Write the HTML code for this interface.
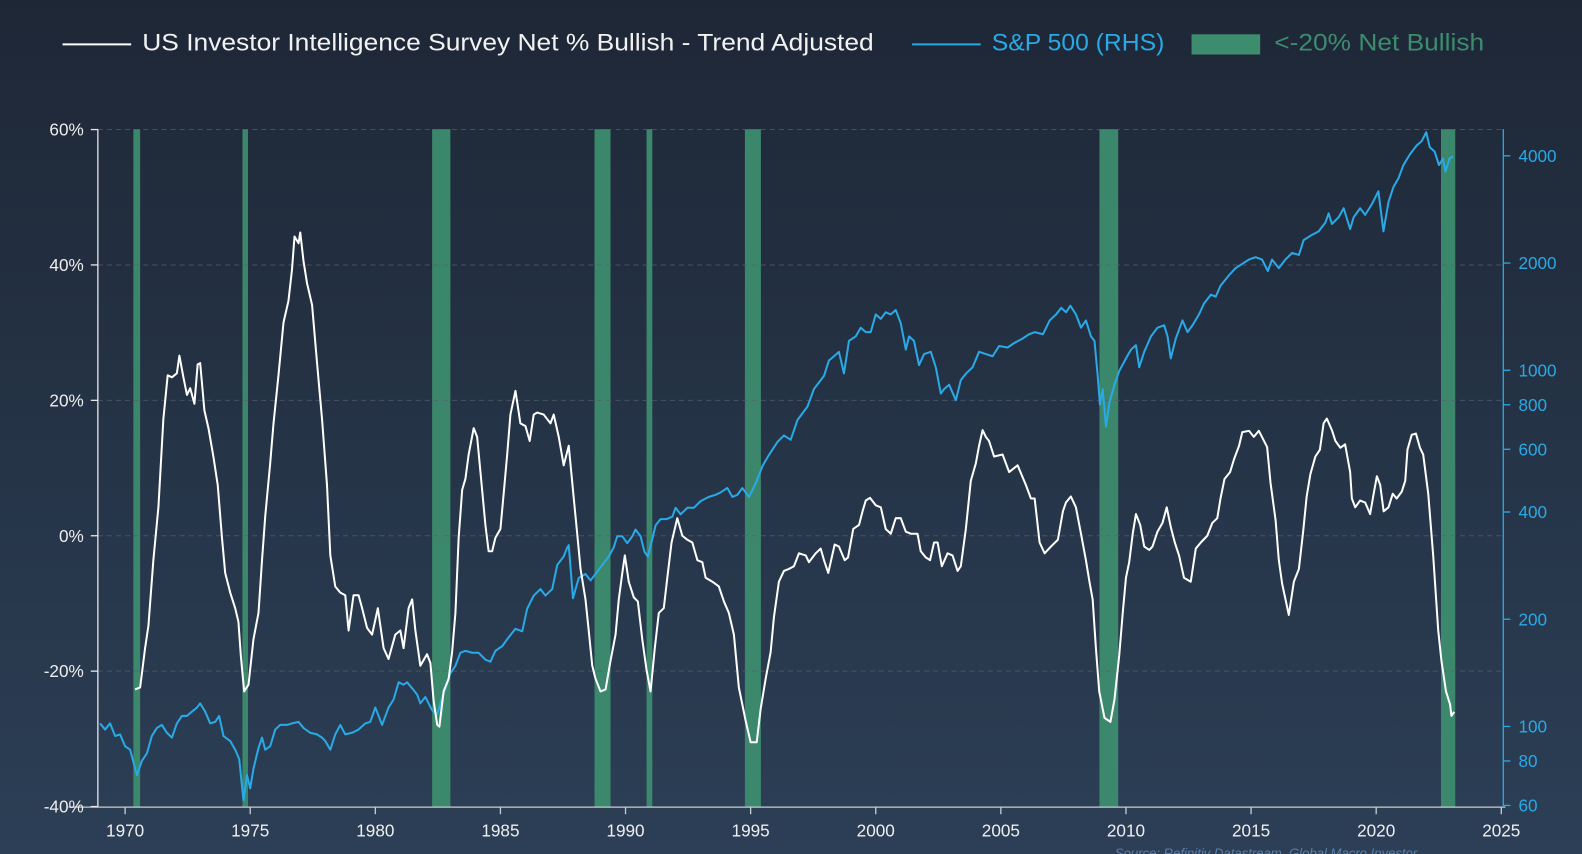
<!DOCTYPE html>
<html><head><meta charset="utf-8">
<style>
html,body{margin:0;padding:0;}
body{width:1582px;height:854px;overflow:hidden;background:linear-gradient(#1e2736,#2c3f56);font-family:"Liberation Sans",sans-serif;}
svg{display:block;}
</style></head>
<body>
<svg id="chart" width="1582" height="854" xmlns="http://www.w3.org/2000/svg">
 <g transform="scale(1.00893)">
  <g id="legend">
    <g>
      <line x1="62" y1="44" x2="130" y2="44" stroke="#ffffff" stroke-width="2"/>
      <text x="141" y="50" fill="#f2f2f2" font-size="24" textLength="725" lengthAdjust="spacingAndGlyphs">US Investor Intelligence Survey Net % Bullish - Trend Adjusted</text>
    </g>
    <g>
      <line x1="904" y1="44" x2="972" y2="44" stroke="#29a9e6" stroke-width="2"/>
      <text x="983" y="50" fill="#29a9e6" font-size="24" textLength="171" lengthAdjust="spacingAndGlyphs">S&amp;P 500 (RHS)</text>
    </g>
    <g>
      <rect x="1181" y="34" width="68" height="20" fill="#3d8c6e"/>
      <text x="1263" y="50" fill="#3d8c6e" font-size="24" textLength="208" lengthAdjust="spacingAndGlyphs">&lt;-20% Net Bullish</text>
    </g>
  </g>
  <g id="shades"></g>
  <g id="grid"></g>
  <g id="axes"></g>
  <g id="series"></g>
  <text x="1105" y="850" fill="#5a7fa8" font-size="13" font-style="italic">Source: Refinitiv Datastream, Global Macro Investor</text>
 </g>
</svg>
<script>
const shadeStart = [1970.33, 1974.69, 1982.27, 1988.76, 1990.84, 1994.77, 2008.94, 2022.59];
const shadeEnd   = [1970.60, 1974.91, 1983.00, 1989.40, 1991.07, 1995.41, 2009.69, 2023.16];
const leftTicks = [60, 40, 20, 0, -20, -40];
const rightTicks = [4000, 2000, 1000, 800, 600, 400, 200, 100, 80, 60];
const xTicks = [1970, 1975, 1980, 1985, 1990, 1995, 2000, 2005, 2010, 2015, 2020, 2025];

const wYears = [1970.4,1970.6,1970.8,1970.93,1971.13,1971.33,1971.53,1971.7,1971.87,1972.07,1972.17,1972.33,1972.47,1972.6,1972.77,1972.9,1973.0,1973.17,1973.33,1973.53,1973.7,1973.87,1974.0,1974.2,1974.4,1974.53,1974.63,1974.76,1974.93,1975.13,1975.33,1975.47,1975.6,1975.8,1975.93,1976.13,1976.33,1976.53,1976.67,1976.77,1976.93,1977.0,1977.13,1977.27,1977.47,1977.67,1977.87,1978.07,1978.2,1978.4,1978.6,1978.8,1978.93,1979.13,1979.33,1979.47,1979.67,1979.87,1980.1,1980.33,1980.53,1980.8,1981.0,1981.13,1981.33,1981.47,1981.6,1981.8,1982.07,1982.2,1982.33,1982.47,1982.56,1982.73,1982.93,1983.07,1983.2,1983.33,1983.47,1983.6,1983.73,1983.93,1984.07,1984.2,1984.4,1984.53,1984.67,1984.8,1985.0,1985.13,1985.27,1985.4,1985.6,1985.8,1986.0,1986.17,1986.33,1986.47,1986.73,1987.0,1987.13,1987.33,1987.53,1987.73,1987.93,1988.07,1988.2,1988.4,1988.53,1988.67,1988.8,1989.0,1989.2,1989.4,1989.6,1989.73,1989.87,1989.97,1990.13,1990.33,1990.49,1990.67,1990.84,1991.0,1991.17,1991.33,1991.53,1991.67,1991.84,1992.07,1992.27,1992.47,1992.67,1992.87,1993.07,1993.2,1993.47,1993.73,1993.93,1994.13,1994.33,1994.53,1994.8,1995.0,1995.24,1995.4,1995.6,1995.8,1995.93,1996.13,1996.33,1996.53,1996.73,1996.93,1997.2,1997.33,1997.6,1997.8,1997.93,1998.1,1998.36,1998.53,1998.76,1998.89,1999.1,1999.33,1999.47,1999.6,1999.77,2000.0,2000.2,2000.4,2000.6,2000.8,2001.0,2001.2,2001.4,2001.67,2001.8,2002.0,2002.17,2002.33,2002.47,2002.64,2002.87,2003.07,2003.27,2003.4,2003.6,2003.8,2004.0,2004.13,2004.27,2004.4,2004.53,2004.73,2005.07,2005.33,2005.67,2006.0,2006.2,2006.35,2006.55,2006.75,2007.0,2007.28,2007.48,2007.6,2007.8,2008.0,2008.2,2008.4,2008.54,2008.67,2008.8,2008.93,2009.14,2009.38,2009.54,2009.73,2009.87,2010.0,2010.13,2010.27,2010.4,2010.57,2010.73,2010.93,2011.06,2011.26,2011.46,2011.63,2011.79,2011.95,2012.12,2012.32,2012.59,2012.79,2012.99,2013.25,2013.45,2013.65,2013.78,2013.94,2014.16,2014.32,2014.52,2014.65,2014.92,2015.11,2015.31,2015.64,2015.78,2015.98,2016.11,2016.24,2016.51,2016.71,2016.91,2017.08,2017.22,2017.37,2017.57,2017.75,2017.9,2018.03,2018.23,2018.37,2018.57,2018.76,2018.96,2019.03,2019.16,2019.36,2019.56,2019.76,2019.9,2020.03,2020.16,2020.3,2020.49,2020.66,2020.82,2021.02,2021.16,2021.25,2021.42,2021.59,2021.75,2021.88,2022.08,2022.28,2022.48,2022.61,2022.79,2022.95,2023.01,2023.12];
const wVals = [-22.7,-22.4,-16.6,-13.3,-3.6,4.2,17.2,23.7,23.4,24,26.6,23.4,20.8,21.8,19.5,25.3,25.5,18.5,15.9,11.7,7.5,-0.3,-5.5,-8.4,-10.7,-12.7,-17.9,-23,-22,-15.3,-11.4,-3.6,2.9,10.7,16.6,23.7,31.5,34.7,39.3,44.2,43.2,44.8,40.6,37.3,34.1,25.6,17.2,7.5,-2.9,-7.5,-8.4,-8.8,-14,-8.8,-8.8,-10.7,-13.6,-14.6,-10.7,-16.6,-18.2,-14.6,-14,-16.6,-10.7,-9.4,-14,-19.2,-17.5,-18.8,-24.4,-27.9,-28.2,-23,-21.1,-17.2,-11.4,-0.3,6.8,8.4,12,15.9,14.6,9.4,1.6,-2.3,-2.3,-0.3,1,6.2,12,17.9,21.4,16.6,16.2,14,17.9,18.2,17.9,16.6,17.9,14.6,10.4,13.3,5.5,0.3,-4.9,-9.4,-14,-19.2,-21.1,-23,-22.7,-18.5,-14.6,-9.4,-5.5,-2.9,-6.8,-9.1,-9.7,-15.3,-19.8,-23,-16.6,-11.4,-10.7,-6.2,-1,2.6,0,-0.6,-1,-3.6,-3.9,-6.2,-6.8,-7.5,-9.7,-11.4,-14.6,-22.4,-27.3,-30.5,-30.5,-25.6,-21.1,-17.2,-12,-6.8,-5.2,-4.9,-4.5,-2.6,-2.9,-3.9,-2.6,-1.9,-3.6,-5.5,-1.3,-1.6,-3.6,-3.2,1,1.6,3.6,5.2,5.6,4.5,4.2,1,0.3,2.6,2.6,0.6,0.3,0.3,-2.3,-3.2,-3.6,-1,-1,-4.5,-2.6,-2.9,-5.2,-4.5,1,8.1,10.7,13.3,15.6,14.6,14,11.7,12,9.4,10.4,7.5,5.5,5.5,-1,-2.6,-1.6,-0.6,3.6,4.9,5.8,4.2,0.3,-3.6,-6.8,-9.4,-16.6,-23,-26.9,-27.5,-24.2,-17.7,-11.4,-6.2,-3.9,0.3,3.2,1.6,-1.6,-2.1,-1.6,0.6,1.9,4.2,1.3,-1,-2.9,-6.2,-6.8,-1.9,-1,0,1.9,2.6,5.5,8.4,9.4,11.3,13.3,15.3,15.5,14.6,15.5,13.1,7.8,2.3,-3.6,-7.1,-11.7,-6.8,-4.9,0.6,5.8,9.1,11.7,12.7,16.6,17.3,15.6,14,13,13.5,9.4,5.5,4.2,5.2,4.9,3.2,6.2,8.8,7.5,3.6,4.2,6.2,5.5,6.5,8.1,12.7,14.9,15.1,13,12,6.2,-2.9,-14,-18.5,-23,-24.9,-26.6,-26];

const bYears = [1969.0,1969.2,1969.4,1969.6,1969.8,1970.0,1970.2,1970.47,1970.67,1970.87,1971.07,1971.27,1971.47,1971.67,1971.87,1972.07,1972.27,1972.47,1972.67,1972.87,1973.0,1973.2,1973.4,1973.6,1973.76,1973.93,1974.2,1974.4,1974.56,1974.73,1974.87,1975.0,1975.13,1975.33,1975.47,1975.6,1975.8,1976.0,1976.2,1976.47,1976.67,1976.93,1977.13,1977.4,1977.67,1977.87,1978.0,1978.2,1978.4,1978.6,1978.8,1979.07,1979.33,1979.6,1979.8,1980.0,1980.27,1980.53,1980.73,1980.93,1981.13,1981.27,1981.47,1981.67,1981.8,1982.0,1982.27,1982.47,1982.6,1982.8,1983.0,1983.2,1983.4,1983.6,1983.87,1984.13,1984.4,1984.6,1984.8,1985.07,1985.33,1985.6,1985.87,1986.07,1986.33,1986.6,1986.8,1987.07,1987.27,1987.53,1987.67,1987.73,1987.9,1988.13,1988.4,1988.6,1988.87,1989.07,1989.33,1989.53,1989.67,1989.87,1990.07,1990.27,1990.4,1990.6,1990.76,1990.89,1991.03,1991.2,1991.4,1991.64,1991.87,1992.0,1992.2,1992.47,1992.73,1993.0,1993.33,1993.6,1993.8,1994.07,1994.27,1994.47,1994.67,1994.93,1995.2,1995.47,1995.73,1996.07,1996.33,1996.6,1996.87,1997.07,1997.27,1997.53,1997.73,1997.93,1998.13,1998.33,1998.53,1998.73,1998.93,1999.2,1999.4,1999.6,1999.8,2000.0,2000.2,2000.4,2000.6,2000.8,2001.0,2001.2,2001.33,2001.53,2001.73,2001.93,2002.2,2002.4,2002.6,2002.73,2002.93,2003.2,2003.4,2003.6,2003.87,2004.13,2004.4,2004.67,2004.93,2005.27,2005.53,2005.87,2006.13,2006.35,2006.68,2006.95,2007.21,2007.41,2007.61,2007.78,2008.0,2008.2,2008.4,2008.6,2008.74,2008.87,2008.96,2009.07,2009.2,2009.34,2009.54,2009.73,2010.0,2010.2,2010.4,2010.53,2010.73,2011.0,2011.26,2011.53,2011.66,2011.79,2011.99,2012.26,2012.46,2012.66,2012.92,2013.12,2013.39,2013.59,2013.78,2014.12,2014.38,2014.65,2014.91,2015.18,2015.44,2015.67,2015.84,2016.11,2016.37,2016.64,2016.91,2017.1,2017.37,2017.7,2017.97,2018.1,2018.23,2018.5,2018.7,2018.96,2019.1,2019.36,2019.56,2019.83,2020.09,2020.29,2020.49,2020.69,2020.89,2021.09,2021.35,2021.62,2021.82,2022.0,2022.14,2022.34,2022.51,2022.67,2022.77,2022.93,2023.06];
const bVals = [102,98,102,94,95,88,86,73,80,84,94,99,101,96,93,102,107,107,110,113,116,110,102,103,107,94,91,86,81,62,73,67,76,87,93,86,88,98,101,101,102,103,99,96,95,93,91,86,95,101,95,96,98,102,103,113,101,113,119,133,131,133,128,123,116,121,111,108,116,128,141,148,161,163,161,161,154,152,163,168,178,188,185,214,233,243,233,243,284,300,318,323,229,261,268,257,272,284,300,318,342,342,327,342,357,342,309,300,327,367,382,382,388,411,394,411,411,429,441,447,454,467,441,447,467,441,481,538,578,629,656,638,725,757,790,885,924,964,1065,1095,1127,980,1210,1245,1317,1280,1280,1435,1395,1455,1435,1477,1355,1143,1245,1210,1034,1111,1127,1020,860,885,911,824,938,978,1020,1127,1111,1095,1170,1159,1192,1228,1262,1280,1262,1380,1435,1497,1455,1518,1435,1317,1380,1245,1210,964,801,885,695,812,911,995,1080,1143,1176,1020,1127,1245,1317,1338,1245,1080,1228,1380,1280,1338,1435,1540,1630,1610,1727,1850,1935,1990,2046,2078,2046,1900,2046,1935,2046,2135,2107,2320,2385,2455,2600,2760,2575,2690,2850,2490,2690,2850,2730,2930,3180,2455,2970,3270,3460,3770,4040,4280,4400,4660,4230,4110,3770,3930,3610,3930,3990];

const NS = 'http://www.w3.org/2000/svg';
const PL = 97, PR = 1490, PT = 128, PB = 800;
function xScale(yr){ return 124 + (yr - 1970) * 24.8; }
function yLeft(v){ return 531 - v * (134.2 / 20); }
function yRight(v){ return 367 - 353 * (Math.log10(v) - 3); }
function mk(tag, attrs, parent){ const e = document.createElementNS(NS, tag); for (const k in attrs) e.setAttribute(k, attrs[k]); parent.appendChild(e); return e; }

const gShade = document.getElementById('shades');
for (let i = 0; i < shadeStart.length; i++) {
  const x0 = xScale(shadeStart[i]), x1 = xScale(shadeEnd[i]);
  const r = mk('rect', {x: x0, y: PT, width: x1 - x0, height: PB - PT, fill: '#3d8c6e', opacity: '0.95'}, gShade);
  
  
}

const gGrid = document.getElementById('grid');
for (const t of leftTicks) {
  if (t === -40) continue;
  const y = yLeft(t);
  const l = mk('line', {x1: PL, x2: PR, y1: y, y2: y, stroke: '#55606e', 'stroke-width': 1, 'stroke-dasharray': '5,4', opacity: '0.7'}, gGrid);
  
  
}

const gAx = document.getElementById('axes');
mk('line', {x1: PL, x2: PL, y1: PT, y2: PB, stroke: '#e6e6e6', 'stroke-width': 1.3}, gAx);
mk('line', {x1: 68, x2: PR + 2, y1: PB, y2: PB, stroke: '#c8cdd3', 'stroke-width': 1.3}, gAx);
mk('line', {x1: PR, x2: PR, y1: PT, y2: PB, stroke: '#29a9e6', 'stroke-width': 1.3}, gAx);
for (const t of leftTicks) {
  const y = yLeft(t);
  mk('line', {x1: PL - 7, x2: PL, y1: y, y2: y, stroke: '#e6e6e6', 'stroke-width': 1.3}, gAx);
  const tx = mk('text', {x: 83, y: y + 6, 'text-anchor': 'end', fill: '#eeeeee', 'font-size': 17}, gAx);
  tx.textContent = t + '%';
  
  
}
for (const t of rightTicks) {
  const y = yRight(t);
  mk('line', {x1: PR, x2: PR + 7, y1: y, y2: y, stroke: '#29a9e6', 'stroke-width': 1.3}, gAx);
  const tx = mk('text', {x: 1505, y: y + 6, fill: '#29a9e6', 'font-size': 17}, gAx);
  tx.textContent = t;
  
  
}
for (const t of xTicks) {
  const x = xScale(t);
  mk('line', {x1: x, x2: x, y1: PB, y2: PB + 7, stroke: '#c8cdd3', 'stroke-width': 1.3}, gAx);
  const tx = mk('text', {x: x, y: 829, 'text-anchor': 'middle', fill: '#eeeeee', 'font-size': 17}, gAx);
  tx.textContent = t;
  
  
}

const gS = document.getElementById('series');
let dB = '';
for (let i = 0; i < bYears.length; i++) dB += (i ? 'L' : 'M') + xScale(bYears[i]).toFixed(1) + ',' + yRight(bVals[i]).toFixed(1);
const pb = mk('path', {d: dB, fill: 'none', stroke: '#29a9e6', 'stroke-width': 2, 'stroke-linejoin': 'round'}, gS);


let dW = '';
for (let i = 0; i < wYears.length; i++) dW += (i ? 'L' : 'M') + xScale(wYears[i]).toFixed(1) + ',' + yLeft(wVals[i]).toFixed(1);
const pw = mk('path', {d: dW, fill: 'none', stroke: '#ffffff', 'stroke-width': 2, 'stroke-linejoin': 'round'}, gS);


</script>
</body></html>
